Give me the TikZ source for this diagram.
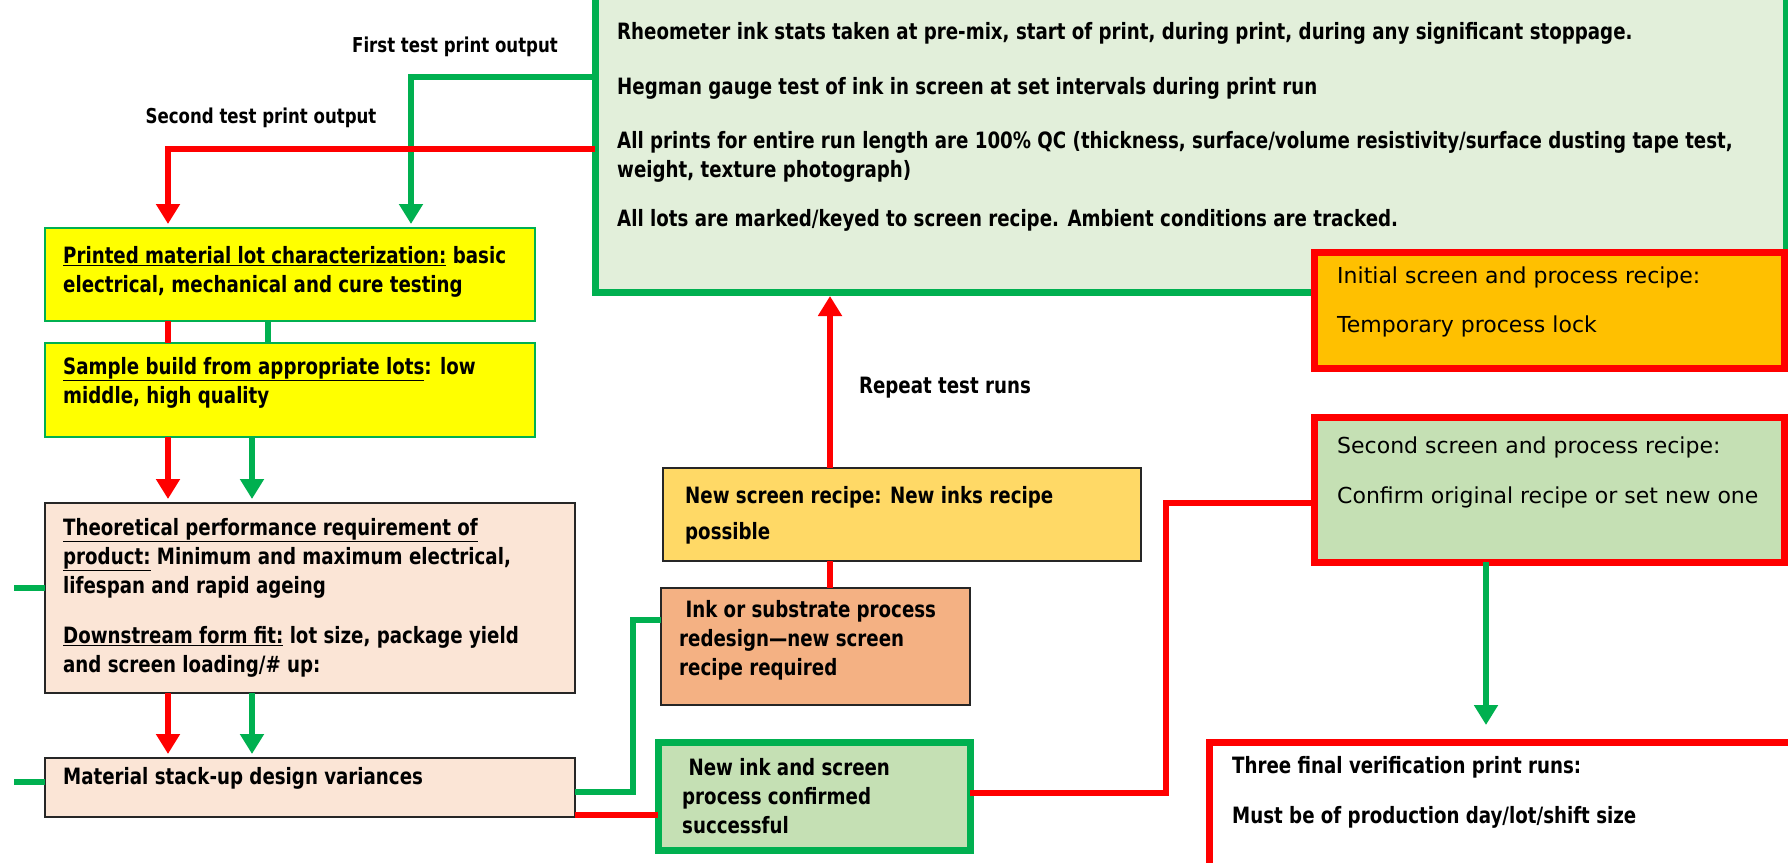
\documentclass[tikz,border=0pt]{standalone}
\usepackage{fontspec}
\setmainfont{DejaVu Sans Condensed}[FakeStretch=0.9]
\newfontfamily\plainfont{DejaVu Sans}
\usepackage{tikz}
\usetikzlibrary{arrows.meta, positioning}

\definecolor{okgreen}{HTML}{00B050}
\definecolor{stopred}{HTML}{FF0000}
\definecolor{qcfill}{HTML}{E2EFDA}
\definecolor{lotyellow}{HTML}{FFFF00}
\definecolor{peach}{HTML}{FBE5D6}
\definecolor{recipegold}{HTML}{FFD966}
\definecolor{redesignorange}{HTML}{F4B183}
\definecolor{passgreen}{HTML}{C5E0B4}
\definecolor{lockamber}{HTML}{FFC000}
\definecolor{edgegray}{HTML}{262626}

\begin{document}
\begin{tikzpicture}[
  x=1pt, y=-1pt,
  font={\fontsize{22.5}{29}\selectfont\bfseries},
  box/.style={rectangle, anchor=north west, inner sep=0pt, outer sep=0pt},
  lotbox/.style={box, draw=okgreen, line width=2pt, fill=lotyellow},
  specbox/.style={box, draw=edgegray, line width=2.5pt, fill=peach},
  qcpanel/.style={box, draw=okgreen, line width=7pt, fill=qcfill},
  lockbox/.style={box, draw=stopred, line width=7pt},
  passbox/.style={box, draw=okgreen, line width=7pt, fill=passgreen},
  txt/.style={anchor=north west, inner sep=0pt, align=left},
  plaintxt/.style={txt, font={\plainfont\fontsize{22}{29}\selectfont}},
  flowlabel/.style={font={\fontsize{20.5}{29}\selectfont\bfseries}},
  gline/.style={draw=okgreen, line width=6.5pt},
  rline/.style={draw=stopred, line width=6.5pt},
  tip/.style={-{Triangle[width=23pt,length=20pt]}, shorten >=4pt}
]
\useasboundingbox (0,0) rectangle (1788,862);
\fill[white] (0,0) rectangle (1788,862);

% QC panel and recipe boxes on the right
\node[qcpanel, minimum width=1191pt, minimum height=302pt] (qcbox) at (595,-10) {};
\node[txt, below right=32pt and 22pt of qcbox.north west] (qctxt) {Rheometer ink stats taken at pre-mix, start of print, during print, during any significant stoppage.\\[26pt]
Hegman gauge test of ink in screen at set intervals during print run\\[25pt]
All prints for entire run length are 100\% QC (thickness, surface/volume resistivity/surface dusting tape test,\\
weight, texture photograph)\\[20pt]
All lots are marked/keyed to screen recipe. Ambient conditions are tracked.};

\node[lockbox, fill=lockamber, minimum width=470pt, minimum height=116pt] (initrecipe) at (1314,252) {};
\node[plaintxt, below right=15pt and 23pt of initrecipe.north west] (inittxt) {Initial screen and process recipe:\\[20pt]
Temporary process lock};

\node[lockbox, fill=passgreen, minimum width=470pt, minimum height=145pt] (secrecipe) at (1314,417) {};
\node[plaintxt, below right=20pt and 23pt of secrecipe.north west] (sectxt) {Second screen and process recipe:\\[21pt]
Confirm original recipe or set new one};

\node[lockbox, fill=white, minimum width=620pt, minimum height=200pt] (finalruns) at (1209,742) {};
\node[txt, below right=14pt and 23pt of finalruns.north west] (finaltxt) {Three final verification print runs:\\[21pt]
Must be of production day/lot/shift size};

% Middle column
\node[box, draw=edgegray, line width=2.5pt, fill=recipegold, minimum width=478pt, minimum height=93pt] (newscreen) at (663,468) {};
\node[txt, below right=18pt and 22pt of newscreen.north west] (newscreentxt) {New screen recipe: New inks recipe\\[7.5pt]
possible};

\node[box, draw=edgegray, line width=2.5pt, fill=redesignorange, minimum width=309pt, minimum height=117pt] (redesign) at (661,588) {};
\node[txt, below right=12pt and 18pt of redesign.north west] (redesigntxt) {\ Ink or substrate process\\
redesign---new screen\\
recipe required};

\node[passbox, minimum width=312pt, minimum height=108pt] (confirmed) at (658,742) {};
\node[txt, below right=16pt and 24pt of confirmed.north west] (confirmedtxt) {\ New ink and screen\\
process confirmed\\
successful};

% Left column
\node[lotbox, minimum width=490pt, minimum height=93pt] (lotchar) at (45,228) {};
\node[txt, below right=18pt and 18pt of lotchar.north west] (lotchartxt) {\underline{Printed material lot characterization:} basic\\
electrical, mechanical and cure testing};

\node[lotbox, minimum width=490pt, minimum height=94pt, below=22pt of lotchar.south west, anchor=north west] (samples) {};
\node[txt, below right=14pt and 18pt of samples.north west] (samplestxt) {\underline{Sample build from appropriate lots}: low\\
middle, high quality};

\node[specbox, minimum width=530pt, minimum height=190pt, below=66pt of samples.south west, anchor=north west] (theory) {};
\node[txt, below right=15pt and 18pt of theory.north west] (theorytxt) {\underline{Theoretical performance requirement of}\\
\underline{product:} Minimum and maximum electrical,\\
lifespan and rapid ageing\\[21pt]
\underline{Downstream form fit:} lot size, package yield\\
and screen loading/\# up:};

\node[specbox, minimum width=530pt, minimum height=59pt, below=65pt of theory.south west, anchor=north west] (stackup) {};
\node[txt, below right=9pt and 18pt of stackup.north west] (stackuptxt) {Material stack-up design variances};

% Labels
\node[flowlabel] (firstlbl) at (455,47) {First test print output};
\node[flowlabel] (secondlbl) at (261,118) {Second test print output};
\node (repeatlbl) at (945,388) {Repeat test runs};

% Green connectors
\draw[gline, tip] (qcbox.west |- 0,77) -| (lotchar.north -| 411,0);
\draw[gline] (lotchar.south -| 268,0) -- (samples.north -| 268,0);
\draw[gline, tip] (samples.south -| 252,0) -- (theory.north -| 252,0);
\draw[gline, tip] (theory.south -| 252,0) -- (stackup.north -| 252,0);
\coordinate (theoryin) at (14,588);
\coordinate (stackupin) at (14,782);
\draw[gline] (theory.west |- theoryin) -- (theoryin);
\draw[gline] (stackup.west |- stackupin) -- (stackupin);
\draw[gline] (stackup.east |- 0,792) -- (633,792) |- (redesign.west |- 0,620);
\draw[gline, tip, shorten >=17pt] (secrecipe.south -| 1486,0) -- (finalruns.north -| 1486,0);

% Red connectors
\draw[rline, tip] (qcbox.west |- 0,149) -| (lotchar.north -| 168,0);
\draw[rline] (lotchar.south -| 168,0) -- (samples.north -| 168,0);
\draw[rline, tip] (samples.south -| 168,0) -- (theory.north -| 168,0);
\draw[rline, tip] (theory.south -| 168,0) -- (stackup.north -| 168,0);
\draw[rline] (stackup.east |- 0,815) -- (confirmed.west |- 0,815);
\draw[rline] (newscreen.south -| 830,0) -- (redesign.north -| 830,0);
\draw[rline, tip] (newscreen.north -| 830,0) -- (qcbox.south -| 830,0);
\draw[rline] (confirmed.east |- 0,793) -| (1166,503) -- (secrecipe.west |- 0,503);

\end{tikzpicture}
\end{document}
